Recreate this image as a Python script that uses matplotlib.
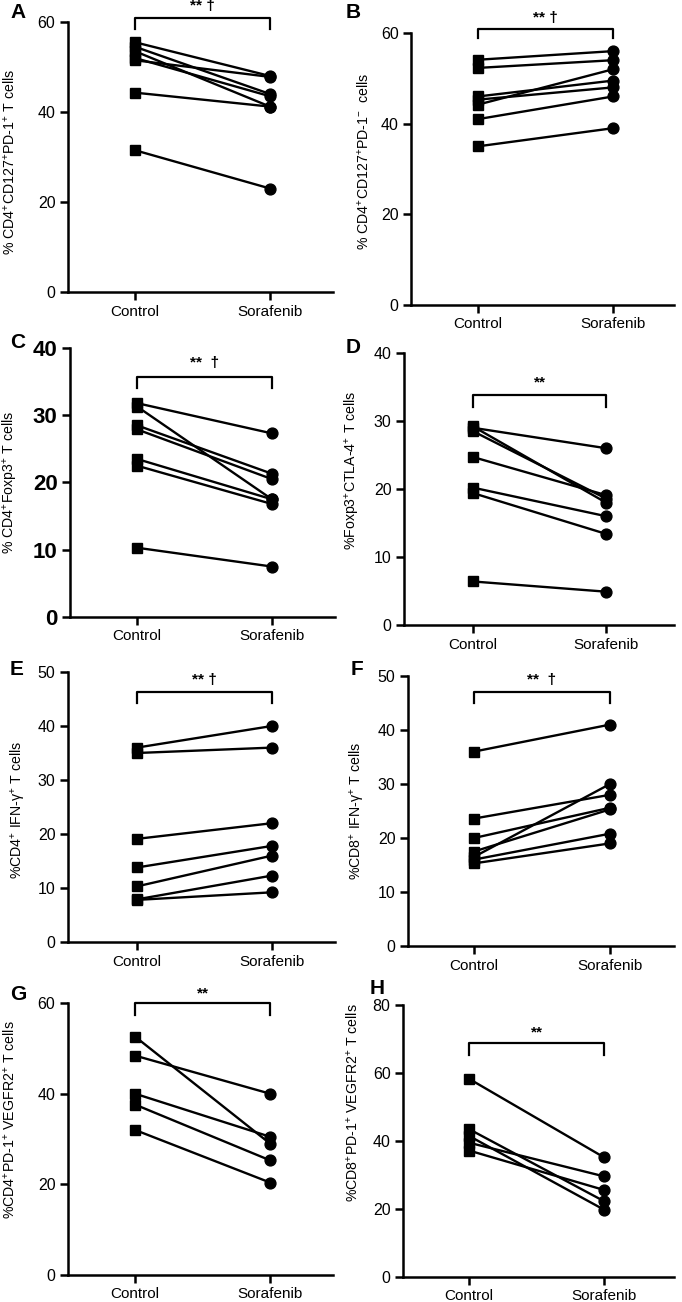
import numpy as np
import matplotlib
matplotlib.use('Agg')
import matplotlib.pyplot as plt

plt.rcParams['font.family'] = ['Liberation Sans', 'DejaVu Sans']
plt.rcParams['mathtext.default'] = 'regular'

groups = ['Control', 'Sorafenib']

# paired values (control -> sorafenib)
a_ctrl = [55.5, 54.5, 53.5, 52.0, 51.5, 44.3, 31.5]
a_sora = [48.0, 44.0, 41.2, 43.5, 47.8, 41.2, 23.0]

b_ctrl = [54.1, 52.3, 46.0, 45.3, 44.2, 41.0, 35.0]
b_sora = [56.0, 54.0, 49.5, 48.0, 52.0, 46.0, 39.0]

c_ctrl = [31.8, 31.3, 28.5, 27.9, 23.5, 22.5, 10.3]
c_sora = [27.3, 17.5, 21.3, 20.5, 17.5, 16.8, 7.5]

d_ctrl = [29.0, 29.2, 28.5, 24.7, 20.2, 19.4, 6.4]
d_sora = [26.0, 18.0, 18.6, 19.1, 16.0, 13.4, 4.9]

e_ctrl = [36.0, 35.0, 19.1, 13.8, 10.3, 7.9, 7.8]
e_sora = [40.0, 36.0, 22.0, 17.8, 16.0, 12.3, 9.2]

f_ctrl = [36.0, 23.6, 20.0, 16.5, 17.5, 16.0, 15.3]
f_sora = [41.0, 28.0, 25.6, 30.0, 25.3, 20.8, 19.0]

g_ctrl = [52.6, 48.4, 40.0, 37.6, 32.0]
g_sora = [29.0, 40.0, 30.5, 25.3, 20.4]

h_ctrl = [58.3, 43.5, 41.5, 39.5, 37.2]
h_sora = [35.2, 22.3, 19.8, 29.6, 25.6]

ylabels = [r'% CD4$^{+}$CD127$^{+}$PD-1$^{+}$ T cells',
           r'% CD4$^{+}$CD127$^{+}$PD-1$^{-}$  cells',
           r'% CD4$^{+}$Foxp3$^{+}$ T cells',
           r'%Foxp3$^{+}$CTLA-4$^{+}$ T cells',
           r'%CD4$^{+}$ IFN-$\gamma^{+}$ T cells',
           r'%CD8$^{+}$ IFN-$\gamma^{+}$ T cells',
           r'%CD4$^{+}$PD-1$^{+}$ VEGFR2$^{+}$ T cells',
           r'%CD8$^{+}$PD-1$^{+}$ VEGFR2$^{+}$ T cells']
letters = ['A', 'B', 'C', 'D', 'E', 'F', 'G', 'H']
stars = ['** †', '** †', '**  †', '**', '** †', '**  †', '**', '**']
ymaxes = [60, 60, 40, 40, 50, 50, 60, 80]
ysteps = [20, 20, 10, 10, 10, 10, 20, 20]
# bracket top, bracket leg end, text y (data units)
brackets = [(60.9, 58.4, 63.6), (60.9, 58.9, 63.3), (35.7, 34.0, 37.8),
            (33.8, 32.1, 35.6), (46.3, 44.3, 48.5), (47.0, 45.0, 49.3),
            (60.0, 57.3, 62.2), (68.8, 65.3, 72.0)]
label_xy = [(-0.19, 0.48), (-0.148, 0.53), (-0.19, 0.50), (-0.156, 0.57),
            (-0.15, 0.49), (-0.154, 0.50), (-0.19, 0.57), (-0.155, 0.64)]

data = [(a_ctrl, a_sora), (b_ctrl, b_sora), (c_ctrl, c_sora), (d_ctrl, d_sora),
        (e_ctrl, e_sora), (f_ctrl, f_sora), (g_ctrl, g_sora), (h_ctrl, h_sora)]

W, H = 682., 1302.
# pixel boxes: y-axis x, top y, zero y, x of control, x of sorafenib, right end
boxes = [(68, 22, 292, 135, 270, 333),
         (411, 33, 305, 478, 613, 674),
         (70, 348, 617, 137, 272, 335),
         (404, 353, 625, 473, 606, 674),
         (68, 672, 942, 137, 272, 335),
         (408, 676, 946, 474, 610, 674),
         (68, 1003, 1275, 135, 270, 333),
         (403, 1005, 1277, 469, 604, 674)]
letter_pos = [(10, 12), (346, 12), (10, 343), (346, 348),
              (10, 670), (351, 670), (10, 995), (370, 989)]

f = plt.figure(figsize=(6.82, 13.02), dpi=100)

for i in range(8):
    x0, ytop, y0, xc, xs, xr = boxes[i]
    ax = f.add_axes([x0/W, 1-y0/H, (xr-x0)/W, (y0-ytop)/H])
    sp = float(xs - xc)
    ax.set_xlim(1 - (xc-x0)/sp, 2 + (xr-xs)/sp)
    ax.set_ylim(0, ymaxes[i])

    ctrl, sora = data[i]
    for c, s in zip(ctrl, sora):
        ax.plot([1, 2], [c, s], color='black', lw=1.7, clip_on=False, zorder=2)
    ax.plot(np.ones(len(ctrl)), ctrl, 's', color='black', ms=7.8, clip_on=False, zorder=3)
    ax.plot(np.full(len(sora), 2), sora, 'o', color='black', ms=7.8, clip_on=False, zorder=3)

    ax.spines['top'].set_visible(False)
    ax.spines['right'].set_visible(False)
    ax.spines['left'].set_linewidth(1.8)
    ax.spines['bottom'].set_linewidth(1.8)
    ax.set_xticks([1, 2])
    ax.set_xticklabels(groups, fontsize=11)
    ax.set_yticks(np.arange(0, ymaxes[i]+1, ysteps[i]))
    ax.tick_params(width=1.8, length=6, direction='out', pad=3)
    if i == 2:
        ax.tick_params(axis='y', labelsize=16)
        for t in ax.get_yticklabels():
            t.set_fontweight('bold')
    else:
        ax.tick_params(axis='y', labelsize=11.5)
    ax.set_ylabel(ylabels[i], fontsize=10.2)
    ax.yaxis.set_label_coords(label_xy[i][0], label_xy[i][1])

    top, leg, ty = brackets[i]
    ax.plot([1, 1, 2, 2], [leg, top, top, leg], color='black', lw=1.6, clip_on=False)
    ax.text(1.5, ty, stars[i], ha='center', va='center', fontsize=11,
            fontweight='bold', clip_on=False)

    lx, ly = letter_pos[i]
    f.text(lx/W, 1-ly/H, letters[i], fontsize=15, fontweight='bold', va='center', ha='left')

f.savefig('out.png', dpi=100)
